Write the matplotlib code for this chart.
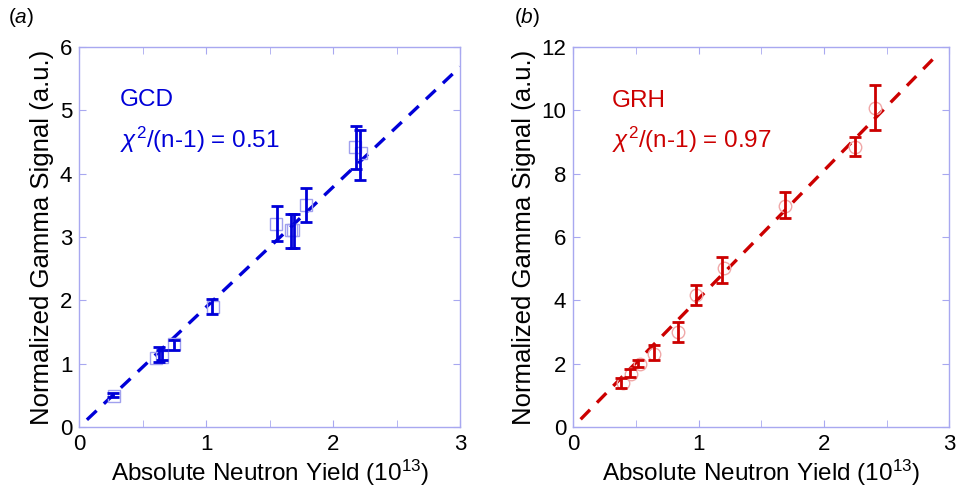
import matplotlib
matplotlib.use("Agg")
import matplotlib.pyplot as plt
import numpy as np

plt.rcParams['font.family'] = ['Liberation Sans', 'DejaVu Sans']
plt.rcParams['mathtext.fontset'] = 'custom'
plt.rcParams['mathtext.rm'] = 'Liberation Sans'
plt.rcParams['mathtext.it'] = 'Liberation Sans:italic'

# ---- Panel (a): GCD ----
gcd_x = [0.275, 0.605, 0.648, 0.75, 1.05, 1.55, 1.665, 1.685, 1.79, 2.17, 2.22]
gcd_y = [0.49, 1.09, 1.10, 1.31, 1.89, 3.20, 3.11, 3.11, 3.51, 4.42, 4.32]
gcd_ex = [0.265, 0.63, 0.65, 0.745, 1.045, 1.56, 1.665, 1.69, 1.785, 2.18, 2.21]
gcd_ey = [0.50, 1.145, 1.14, 1.30, 1.905, 3.215, 3.095, 3.095, 3.505, 4.41, 4.295]
gcd_err = [0.03, 0.115, 0.08, 0.08, 0.115, 0.275, 0.275, 0.275, 0.27, 0.34, 0.395]
gcd_slope = 1.895
gcd_fit_x = [0.06, 3.0]

# ---- Panel (b): GRH ----
grh_x = [0.40, 0.465, 0.535, 0.645, 0.84, 0.98, 1.20, 1.69, 2.25, 2.41]
grh_y = [1.38, 1.67, 2.00, 2.31, 3.01, 4.17, 5.01, 6.99, 8.85, 10.08]
grh_ex = [0.38, 0.455, 0.52, 0.645, 0.84, 0.98, 1.19, 1.69, 2.25, 2.41]
grh_ey = [1.40, 1.70, 2.02, 2.35, 3.01, 4.16, 4.96, 7.0, 8.85, 10.09]
grh_err = [0.16, 0.12, 0.11, 0.24, 0.32, 0.32, 0.41, 0.41, 0.30, 0.71]
grh_slope = 4.05
grh_fit_x = [0.06, 2.9]

blue = '#0000d8'
red = '#cc0000'
axcol = '#a8a8f0'

fig = plt.figure(figsize=(9.6, 5.0), dpi=100)
ax1 = fig.add_axes([0.0826, 0.146, 0.3966, 0.76])
ax2 = fig.add_axes([0.597, 0.146, 0.392, 0.76])

def style(ax, ymax, ystep):
    ax.set_xlim(0, 3)
    ax.set_ylim(0, ymax)
    ax.set_xticks(np.arange(0, 3.01, 1))
    ax.set_xticks(np.arange(0, 3.01, 0.5), minor=True)
    ax.set_yticks(np.arange(0, ymax + 0.01, ystep))
    for s in ax.spines.values():
        s.set_color(axcol)
        s.set_linewidth(1.0)
    ax.tick_params(which='both', direction='in', top=True, right=True,
                   color=axcol, labelsize=16, labelcolor='black', pad=5)
    ax.tick_params(which='major', length=5)
    ax.tick_params(which='minor', length=5)
    ax.set_xlabel('Absolute Neutron Yield (10$^{13}$)', fontsize=17.5, labelpad=2)
    ax.set_ylabel('Normalized Gamma Signal (a.u.)', fontsize=18.5, labelpad=4)

# panel a
fx = np.array(gcd_fit_x)
ax1.plot(fx, gcd_slope * fx, '--', color=blue, lw=2.4, dashes=(4, 3), zorder=2)
ax1.plot(gcd_x, gcd_y, 's', ms=9, mfc='none', mec='#a0a0ee', mew=1.0, zorder=3)
ax1.errorbar(gcd_ex, gcd_ey, yerr=gcd_err, fmt='none', ecolor=blue,
             elinewidth=2.0, capsize=4, capthick=2.0, zorder=4)
style(ax1, 6, 1)
ax1.text(0.32, 5.17, 'GCD', color=blue, fontsize=17.5, va='center')
ax1.text(0.32, 4.53, r'$\chi^2$/(n-1) = 0.51', color=blue, fontsize=17.5, va='center')
fig.text(0.008, 0.965, r'($\it{a}$)', fontsize=15, va='center')

# panel b
fx = np.array(grh_fit_x)
ax2.plot(fx, grh_slope * fx, '--', color=red, lw=2.4, dashes=(4, 3), zorder=2)
ax2.plot(grh_x, grh_y, 'o', ms=9, mfc='none', mec='#f0a8a8', mew=1.0, zorder=3)
ax2.errorbar(grh_ex, grh_ey, yerr=grh_err, fmt='none', ecolor=red,
             elinewidth=2.0, capsize=4, capthick=2.0, zorder=4)
style(ax2, 12, 2)
ax2.text(0.31, 10.3, 'GRH', color=red, fontsize=17.5, va='center')
ax2.text(0.31, 9.06, r'$\chi^2$/(n-1) = 0.97', color=red, fontsize=17.5, va='center')
fig.text(0.535, 0.965, r'($\it{b}$)', fontsize=15, va='center')

fig.savefig('out.png', dpi=100)
